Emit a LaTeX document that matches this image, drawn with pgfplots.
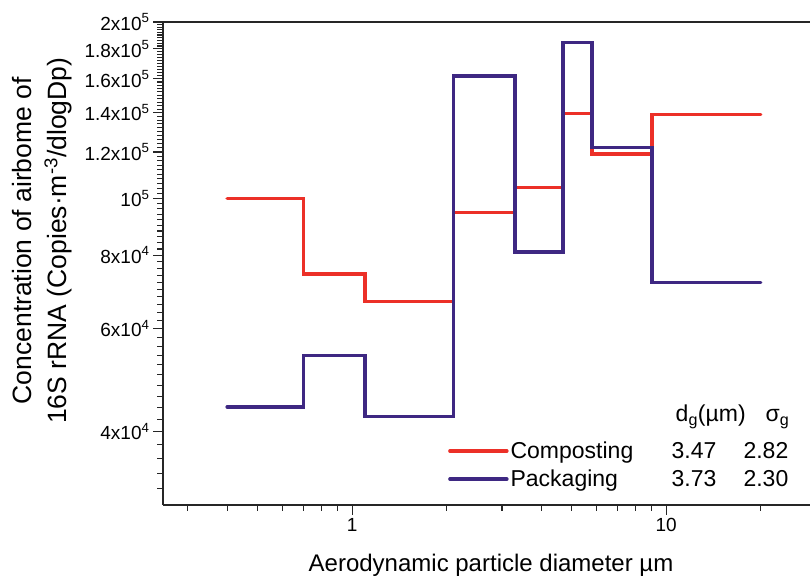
\documentclass[border=0pt]{standalone}
\usepackage{fontspec}
\setmainfont{Liberation Sans}
\usepackage{pgfplots}
\pgfplotsset{compat=1.18}
\definecolor{compred}{RGB}{236,48,40}
\definecolor{packblue}{RGB}{62,40,130}
\begin{document}
\begin{tikzpicture}
\begin{axis}[
  name=ax,
  scale only axis,
  width=647bp, height=483bp,
  xmode=log, ymode=log,
  xmin=0.25, xmax=28.7,
  ymin=30000, ymax=200000,
  axis x line*=box, axis y line*=left,
  xtick pos=bottom,
  tick align=outside,
  axis line style={line width=1.4bp, black!85},
  every tick/.style={line width=1.1bp, black!85},
  major tick length=10bp, minor tick length=6bp,
  xtick={1,10}, xticklabels={1,10},
  minor xtick={0.3,0.4,0.5,0.6,0.7,0.8,0.9,2,3,4,5,6,7,8,9,20},
  ytick={40000,60000,80000,100000,120000,140000,160000,180000,200000},
  yticklabels={4x10\textsuperscript{4},6x10\textsuperscript{4},8x10\textsuperscript{4},
    10\textsuperscript{5},1.2x10\textsuperscript{5},1.4x10\textsuperscript{5},
    1.6x10\textsuperscript{5},1.8x10\textsuperscript{5},2x10\textsuperscript{5}},
  minor ytick={32000,34000,36000,38000,
    42000,44000,46000,48000,50000,52000,54000,56000,58000,
    62000,64000,66000,68000,70000,72000,74000,76000,78000,
    82000,84000,86000,88000,90000,92000,94000,96000,98000,
    102000,104000,106000,108000,110000,112000,114000,116000,118000,
    122000,124000,126000,128000,130000,132000,134000,136000,138000,
    142000,144000,146000,148000,150000,152000,154000,156000,158000,
    162000,164000,166000,168000,170000,172000,174000,176000,178000,
    182000,184000,186000,188000,190000,192000,194000,196000,198000},
  ticklabel style={font=\fontsize{19bp}{22bp}\selectfont},
  xlabel={Aerodynamic particle diameter µm},
  xlabel style={at={(axis description cs:0.507,-0.124)}, anchor=center,
    font=\fontsize{24bp}{28bp}\selectfont},
  ylabel={Concentration of airbome of\\16S rRNA (Copies·m\textsuperscript{-3}/dlogDp)},
  ylabel style={at={(axis description cs:-0.187,0.547)}, anchor=center,
    align=center, font=\fontsize{26.5bp}{35bp}\selectfont},
  legend style={draw=none, fill=none, at={(axis description cs:0.4405,0.135)},
    anchor=north west, font=\fontsize{23bp}{26bp}\selectfont,
    row sep=6bp, inner sep=0pt},
  legend cell align=left,
  legend image code/.code={\draw[#1] (0bp,0bp) -- (57bp,0bp);},
]
\addplot[const plot, color=compred, line width=3.4bp, line cap=round] coordinates {
  (0.4,100000) (0.7,74300) (1.1,66700) (2.1,94700) (3.3,104500)
  (4.7,139700) (5.8,119000) (9.0,138900) (20,138900)
};
\addlegendentry{\makebox[161bp][l]{Composting}\makebox[72bp][l]{3.47}2.82}
\addplot[const plot, color=packblue, line width=3.4bp, line cap=round] coordinates {
  (0.4,44100) (0.7,54000) (1.1,42500) (2.1,161800) (3.3,81000)
  (4.7,184700) (5.8,122100) (9.0,71900) (20,71900)
};
\addlegendentry{\makebox[161bp][l]{Packaging}\makebox[72bp][l]{3.73}2.30}
\node[anchor=base west, font=\fontsize{23bp}{26bp}\selectfont]
  at (axis description cs:0.787,0.172) {d\textsubscript{g}(µm)};
\node[anchor=base west, font=\fontsize{23bp}{26bp}\selectfont]
  at (axis description cs:0.926,0.172) {σ\textsubscript{g}};
\end{axis}
\pgfresetboundingbox
\path ([xshift=-163bp,yshift=-80bp]ax.south west) rectangle ([yshift=22bp]ax.north east);
\end{tikzpicture}
\end{document}
